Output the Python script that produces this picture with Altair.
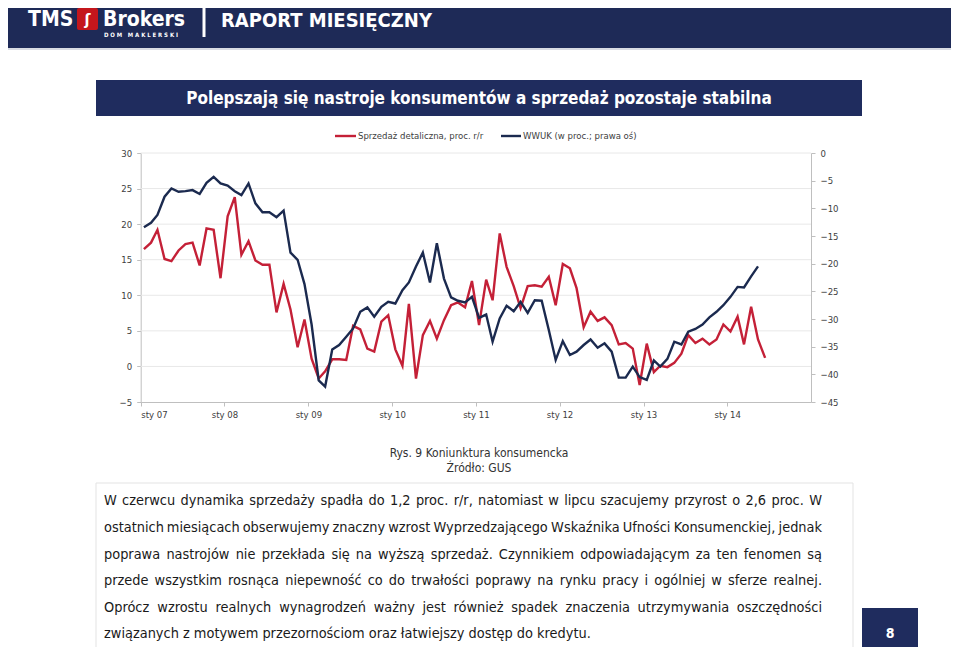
import altair as alt
import pandas as pd

W, H = 943, 639

NAVY_BAR = "#1e2a57"
NAVY_BOX = "#1f2c5e"
RED = "#c42037"
NAVY = "#1b2a4f"
AX = "#bfbfbf"
LAB = "#404040"
FONT = "DejaVu Sans Condensed, Liberation Sans Narrow, DejaVu Sans"

# ---------------- data ----------------
retail = [
    16.5, 17.4, 19.2, 15.1, 14.8, 16.3, 17.2, 17.4, 14.2, 19.4, 19.2, 12.4,
    21.1, 23.8, 15.7, 17.6, 14.9, 14.3, 14.3, 7.6, 11.6, 8.0, 2.7, 6.6,
    1.1, -1.7, -0.7, 1.0, 1.0, 0.9, 5.7, 5.2, 2.5, 2.1, 6.3, 7.2,
    2.4, 0.1, 8.8, -1.7, 4.4, 6.4, 3.9, 6.5, 8.6, 9.0, 8.3, 12.0,
    5.8, 12.2, 9.3, 18.7, 14.0, 11.3, 8.2, 11.3, 11.4, 11.2, 12.6, 8.6,
    14.4, 13.8, 11.0, 5.5, 7.7, 6.4, 6.9, 5.8, 3.1, 3.3, 2.5, -2.6,
    3.2, -0.8, 0.1, -0.1, 0.5, 1.8, 4.4, 3.3, 3.9, 3.1, 3.8, 5.9,
    4.9, 7.0, 3.1, 8.4, 3.8, 1.2,
]
wwuk = [
    -13.4, -12.6, -11.2, -7.9, -6.4, -7.0, -6.9, -6.7, -7.4, -5.4, -4.3, -5.5,
    -5.9, -6.9, -7.6, -5.5, -9.1, -10.7, -10.7, -11.6, -10.4, -18.0, -19.3, -23.7,
    -31.0, -41.1, -42.2, -35.5, -34.7, -33.2, -31.7, -28.7, -27.9, -29.6, -27.8, -26.9,
    -27.2, -24.8, -23.4, -20.5, -18.0, -23.4, -16.3, -22.7, -26.1, -26.7, -27.0, -26.0,
    -29.8, -29.2, -34.1, -29.9, -27.6, -28.6, -26.9, -28.9, -26.6, -26.7, -32.0, -37.4,
    -34.0, -36.5, -35.9, -34.7, -33.7, -35.2, -34.4, -35.9, -40.6, -40.6, -38.6, -40.5,
    -41.0, -37.5, -38.6, -37.2, -34.1, -34.6, -32.3, -31.8, -31.0, -29.7, -28.7, -27.5,
    -26.0, -24.2, -24.3, -22.3, -20.5,
]
tick_years = [2007, 2008, 2009, 2010, 2011, 2012, 2013, 2014]
left_ticks = [-5, 0, 5, 10, 15, 20, 25, 30]
right_ticks = [-45, -40, -35, -30, -25, -20, -15, -10, -5, 0]
legend_labels = ["Sprzedaż detaliczna, proc. r/r", "WWUK (w proc.; prawa oś)"]

title = "Polepszają się nastroje konsumentów a sprzedaż pozostaje stabilna"
caption1 = "Rys. 9 Koniunktura konsumencka"
caption2 = "Źródło: GUS"
para_lines = [
    "W czerwcu dynamika sprzedaży spadła do 1,2 proc. r/r, natomiast w lipcu szacujemy przyrost o 2,6 proc. W",
    "ostatnich miesiącach obserwujemy znaczny wzrost Wyprzedzającego Wskaźnika Ufności Konsumenckiej, jednak",
    "poprawa nastrojów nie przekłada się na wyższą sprzedaż. Czynnikiem odpowiadającym za ten fenomen są",
    "przede wszystkim rosnąca niepewność co do trwałości poprawy na rynku pracy i ogólniej w sferze realnej.",
    "Oprócz wzrostu realnych wynagrodzeń ważny jest również spadek znaczenia utrzymywania oszczędności",
    "związanych z motywem przezornościom oraz łatwiejszy dostęp do kredytu.",
]

dates_r = [f"{2007 + i // 12}-{i % 12 + 1:02d}-15" for i in range(len(retail))]
dates_w = [f"{2007 + i // 12}-{i % 12 + 1:02d}-15" for i in range(len(wwuk))]
df_r = pd.DataFrame({"date": dates_r, "v": retail})
df_w = pd.DataFrame({"date": dates_w, "v": wwuk})

one = pd.DataFrame({"k": [0]})

# ---------------- helpers ----------------
def rect(x, x2, y, y2, color, **kw):
    return alt.Chart(one).mark_rect(color=color, **kw).encode(
        x=alt.value(x), x2=alt.value(x2), y=alt.value(y), y2=alt.value(y2))


def rule(x, x2, y, y2, color, width):
    return alt.Chart(one).mark_rule(color=color, strokeWidth=width).encode(
        x=alt.value(x), x2=alt.value(x2), y=alt.value(y), y2=alt.value(y2))


def text(s, x, y, size, color, bold=False, align="left", baseline="middle", font=FONT):
    return alt.Chart(one).mark_text(
        text=s, align=align, baseline=baseline, font=font, fontSize=size,
        fontWeight="bold" if bold else "normal", color=color,
    ).encode(x=alt.value(x), y=alt.value(y))


# DejaVu Sans advance widths (units / 2048) for justification layout
CW = {" ": 651, ",": 651, ".": 651, "/": 690, ";": 690, ":": 690, "(": 799, ")": 799}
for d in "0123456789":
    CW[d] = 1303
CW.update({"A": 1401, "B": 1405, "C": 1430, "D": 1577, "E": 1294, "F": 1178, "G": 1587,
           "H": 1540, "I": 604, "J": 604, "K": 1343, "L": 1141, "M": 1767, "N": 1532,
           "O": 1612, "P": 1235, "R": 1423, "S": 1300, "T": 1251, "U": 1499, "W": 2025,
           "Z": 1403})
CW.update({"a": 1255, "b": 1300, "c": 1126, "d": 1300, "e": 1260, "f": 721, "g": 1300,
           "h": 1298, "i": 569, "j": 569, "k": 1186, "l": 569, "m": 1995, "n": 1298,
           "o": 1253, "p": 1300, "q": 1300, "r": 842, "s": 1067, "t": 803, "u": 1298,
           "v": 1212, "w": 1675, "x": 1212, "y": 1212, "z": 1075,
           "ą": 1255, "ć": 1126, "ę": 1260, "ł": 640, "ń": 1298, "ó": 1253, "ś": 1067,
           "ź": 1075, "ż": 1075})


def tw(s, size, cond=0.9):
    return sum(CW.get(c, 1200) for c in s) / 2048.0 * size * cond


PSIZE = 14.4
PX0, PX1 = 96, 814
LY = [493, 520, 547, 573, 600, 626]
rows_l, rows_c, rows_r = [], [], []
for li, (line, yy) in enumerate(zip(para_lines, LY)):
    if li == len(para_lines) - 1:
        rows_l.append({"w": line, "x": PX0, "y": yy})
        continue
    words = line.split(" ")
    ws = [tw(w, PSIZE) for w in words]
    gap = (PX1 - PX0 - sum(ws)) / (len(words) - 1)
    xx = PX0
    for k, (w, wd) in enumerate(zip(words, ws)):
        if k == 0:
            rows_l.append({"w": w, "x": xx, "y": yy})
        elif k == len(words) - 1:
            rows_r.append({"w": w, "x": PX1, "y": yy})
        else:
            rows_c.append({"w": w, "x": xx + wd / 2, "y": yy})
        xx += wd + gap


def words_layer(rows, align):
    return alt.Chart(pd.DataFrame(rows)).mark_text(
        align=align, baseline="middle", font=FONT, fontSize=PSIZE, color="#1a1a1a"
    ).encode(
        x=alt.X("x:Q", scale=None, axis=None),
        y=alt.Y("y:Q", scale=None, axis=None),
        text="w:N",
    )


# ---------------- chart geometry ----------------
X0, X1 = 132.7, 803
Y0, Y1 = 394, 145

xscale = alt.Scale(
    type="utc",
    domain=[alt.DateTime(year=2007, month=1, date=1, utc=True),
            alt.DateTime(year=2015, month=1, date=1, utc=True)],
    range=[X0, X1],
)
yl_scale = alt.Scale(domain=[-5, 30], range=[Y0, Y1], nice=False, zero=False)
yr_scale = alt.Scale(domain=[-45, 0], range=[Y0, Y1], nice=False, zero=False)

grid = alt.Chart(pd.DataFrame({"g": left_ticks[1:]})).mark_rule(
    color="#e8e8e8", strokeWidth=1
).encode(
    y=alt.Y("g:Q", scale=yl_scale, axis=None),
    x=alt.value(X0), x2=alt.value(X1),
)

axis_common = dict(
    title=None, domainColor=AX, tickColor=AX, tickSize=4, labelFont=FONT,
    labelFontSize=9.5, labelColor=LAB, grid=False, labelOverlap=False,
)

red_line = alt.Chart(df_r).mark_line(color=RED, strokeWidth=2.4).encode(
    x=alt.X(
        "date:T", scale=xscale,
        axis=alt.Axis(
            orient="bottom", offset=Y0 - H,
            values=[alt.DateTime(year=yv, month=1, date=1, utc=True) for yv in tick_years],
            labelExpr="'sty ' + utcFormat(datum.value, '%y')",
            labelPadding=3, **axis_common,
        ),
    ),
    y=alt.Y(
        "v:Q", scale=yl_scale,
        axis=alt.Axis(orient="left", offset=-X0, values=left_ticks, labelPadding=5,
                      **axis_common),
    ),
)

navy_line = alt.Chart(df_w).mark_line(color=NAVY, strokeWidth=2.4).encode(
    x=alt.X("date:T", scale=xscale, axis=None),
    y=alt.Y(
        "v:Q", scale=yr_scale,
        axis=alt.Axis(orient="right", offset=X1 - W, values=right_ticks, labelPadding=5,
                      **axis_common),
    ),
)

NB = "\u00a0"
dom_text = NB.join("DOM") + NB * 3 + NB.join("MAKLERSKI")

layers = [
    # header
    rect(0, W, 0, 40, NAVY_BAR),
    rule(0, W, 41, 41, "#cdd1da", 1.5),
    text("TMS", 20, 18, 21, "white", bold=True, baseline="alphabetic"),
    rect(69, 90, 0, 22, "#c4161c", cornerRadius=2),
    text("ʃ", 79.5, 12, 16, "white", bold=True, align="center"),
    text("Brokers", 95, 18, 21, "white", bold=True, baseline="alphabetic"),
    text(dom_text, 96, 27, 6, "white", bold=True),
    rule(196, 196, 0, 29, "white", 3),
    text("RAPORT MIESIĘCZNY", 213, 19, 20, "white", bold=True, baseline="alphabetic"),
    # title box
    rect(88, 854, 72, 108, NAVY_BOX),
    text(title, 471, 91, 17, "white", bold=True, align="center"),
    # legend
    rule(327, 348, 128, 128, RED, 2.4),
    text(legend_labels[0], 350, 128, 9.5, LAB),
    rule(493, 513, 128, 128, NAVY, 2.4),
    text(legend_labels[1], 515, 128, 9.5, LAB),
    # chart
    grid,
    red_line,
    navy_line,
    # caption
    text(caption1, 471, 445, 12, "#333333", align="center"),
    text(caption2, 471, 460, 12, "#333333", align="center"),
    # paragraph box
    rect(88, 845, 475, 643, "white", stroke="#e3e3e3", strokeWidth=1),
    words_layer(rows_l, "left"),
    words_layer(rows_c, "center"),
    words_layer(rows_r, "right"),
    # page number
    rect(854, 910, 600, 650, NAVY_BOX),
    text("8", 882, 626, 14, "white", bold=True, align="center"),
]

chart = alt.layer(*layers).resolve_scale(
    x="independent", y="independent"
).properties(
    width=W, height=H,
    autosize=alt.AutoSizeParams(type="none"),
    padding=0,
    background="white",
).configure_view(stroke=None)

chart.save("out.html", embed_options={"renderer": "svg", "actions": False})
